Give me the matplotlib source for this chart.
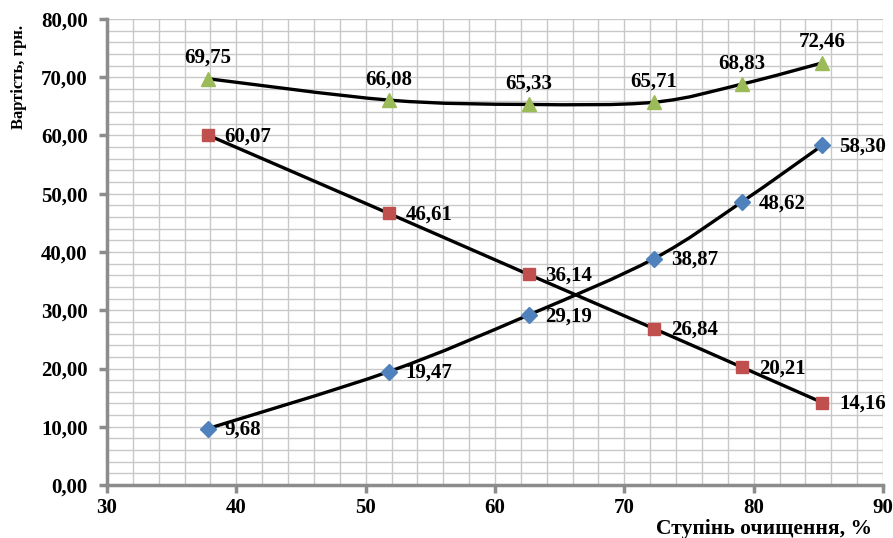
import matplotlib.pyplot as plt
import numpy as np
from matplotlib.path import Path
from matplotlib.patches import PathPatch
from matplotlib.ticker import MultipleLocator, FuncFormatter

plt.rcParams['font.family'] = ['Liberation Serif', 'DejaVu Serif']
plt.rcParams['font.weight'] = 'bold'

purification = [37.8, 51.8, 62.6, 72.3, 79.1, 85.3]
cost_blue = [9.68, 19.47, 29.19, 38.87, 48.62, 58.30]
cost_red = [60.07, 46.61, 36.14, 26.84, 20.21, 14.16]
cost_green = [69.75, 66.08, 65.33, 65.71, 68.83, 72.46]

x_label = "Ступінь очищення, %"
y_label = "Вартість, грн."


def smooth_path(xs, ys):
    # Catmull-Rom style bezier through the points (like a smoothed line)
    pts = np.column_stack([xs, ys])
    n = len(pts)
    verts = [pts[0]]
    codes = [Path.MOVETO]
    for i in range(n - 1):
        p0 = pts[max(i - 1, 0)]
        p1 = pts[i]
        p2 = pts[i + 1]
        p3 = pts[min(i + 2, n - 1)]
        c1 = p1 + (p2 - p0) / 6.0
        c2 = p2 - (p3 - p1) / 6.0
        verts += [c1, c2, p2]
        codes += [Path.CURVE4] * 3
    return Path(verts, codes)


def fmt_comma(v):
    return "{:.2f}".format(v).replace(".", ",")


fig = plt.figure(figsize=(8.93, 5.38), dpi=100)
ax = fig.add_axes([0.1198, 0.0985, 0.8690, 0.8662])

series = [
    (cost_blue, "#4F81BD", "D", 8, "right"),
    (cost_red, "#C0504D", "s", 9, "right"),
    (cost_green, "#9BBB59", "^", 10, "above"),
]

for ys, color, marker, msize, pos in series:
    ax.add_patch(PathPatch(smooth_path(purification, ys), facecolor="none",
                           edgecolor="black", lw=2.4, zorder=3))
    ax.plot(purification, ys, linestyle="none", marker=marker, color=color,
            markersize=msize, zorder=4)
    for x, y in zip(purification, ys):
        if pos == "right":
            ax.annotate(fmt_comma(y), (x, y), xytext=(12, -1), textcoords="offset points",
                        ha="left", va="center", fontsize=15, fontweight="bold", zorder=5)
        else:
            ax.annotate(fmt_comma(y), (x, y), xytext=(0, 15), textcoords="offset points",
                        ha="center", va="center", fontsize=15, fontweight="bold", zorder=5)

ax.set_xlim(30, 90)
ax.set_ylim(0, 80)
ax.xaxis.set_major_locator(MultipleLocator(10))
ax.xaxis.set_minor_locator(MultipleLocator(2))
ax.yaxis.set_major_locator(MultipleLocator(10))
ax.yaxis.set_minor_locator(MultipleLocator(2))
ax.yaxis.set_major_formatter(FuncFormatter(lambda v, p: fmt_comma(v)))

ax.grid(True, which="both", color="#C8C8C8", lw=1.0)
ax.set_axisbelow(True)

for side in ["top", "right"]:
    ax.spines[side].set_visible(False)
for side in ["left", "bottom"]:
    ax.spines[side].set_color("#8C8C8C")
    ax.spines[side].set_linewidth(2.5)

ax.tick_params(which="major", direction="out", length=6, width=2.5, color="#8C8C8C",
               labelsize=15)
ax.tick_params(which="minor", length=0)
for lab in ax.get_xticklabels() + ax.get_yticklabels():
    lab.set_fontweight("bold")
ax.tick_params(axis="x", pad=3)
ax.tick_params(axis="y", pad=8)

fig.text(0.0213, 0.857, y_label, rotation=90, ha="center", va="center",
         fontsize=12, fontweight="bold")
fig.text(0.855, 0.017, x_label, ha="center", va="center", fontsize=15.5, fontweight="bold")

plt.savefig("out.png", dpi=100)
plt.close()
